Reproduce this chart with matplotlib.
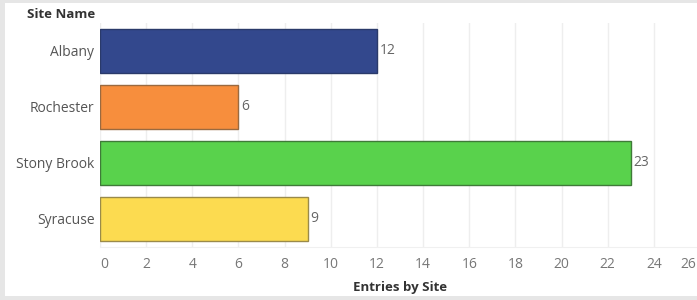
import matplotlib.pyplot as plt
from matplotlib.patches import Rectangle

sites = ['Albany', 'Rochester', 'Stony Brook', 'Syracuse']
entries = [12, 6, 23, 9]
colors = ['#33488d', '#f78e3d', '#59d24c', '#fcdb50']
edges = ['#2a3a6a', '#9a6a40', '#3f7a38', '#9a8a4a']
x_ticks = list(range(0, 25, 2))

plt.rcParams['font.family'] = ['Open Sans', 'DejaVu Sans']

fig = plt.figure(figsize=(6.97, 3.0), dpi=100)
fig.patch.set_facecolor('#e6e6e6')
# white panel
fig.add_artist(Rectangle((5 / 697, 4 / 300), 1, 1 - 4 / 300 - 3 / 300,
                         transform=fig.transFigure, facecolor='white',
                         edgecolor='none', zorder=0))

ax = fig.add_axes([100 / 697, 1 - 247 / 300, 1 - 100 / 697, 224 / 300])
ax.set_facecolor('none')
ax.barh(sites, entries, height=0.77, color=colors, edgecolor=edges,
        linewidth=1.0, zorder=3)
for i, v in enumerate(entries):
    ax.text(v + 0.12, i, str(v), va='center', ha='left', fontsize=10,
            color='#666666')

ax.set_xlim(0, 25.87)
ax.set_ylim(3.5, -0.5)
ax.set_xticks(x_ticks)
ax.set_xticklabels([str(t) for t in x_ticks], color='#777777', fontsize=10)
ax.get_xticklabels()[0].set_ha('left')
# last tick label sits past the plot edge, so place it by hand
fig.text(688 / 697, 1 - 264.5 / 300, '26', ha='center', va='center',
         fontsize=10, color='#777777')
ax.tick_params(axis='x', length=0, pad=7)
ax.tick_params(axis='y', length=0, pad=4, labelsize=10, labelcolor='#555555')
ax.grid(axis='x', color='#eeeeee', linewidth=1, zorder=0)
for s in ['top', 'right', 'left']:
    ax.spines[s].set_visible(False)
ax.spines['bottom'].set_color('#f0f0f0')

fig.text(27 / 697, 1 - 14 / 300, 'Site Name', fontsize=9.5,
         fontweight='bold', color='#333333', va='center', ha='left')
fig.text(400 / 697, 1 - 287 / 300, 'Entries by Site', fontsize=9.5,
         fontweight='bold', color='#333333', va='center', ha='center')

fig.savefig('out.png', dpi=100)
